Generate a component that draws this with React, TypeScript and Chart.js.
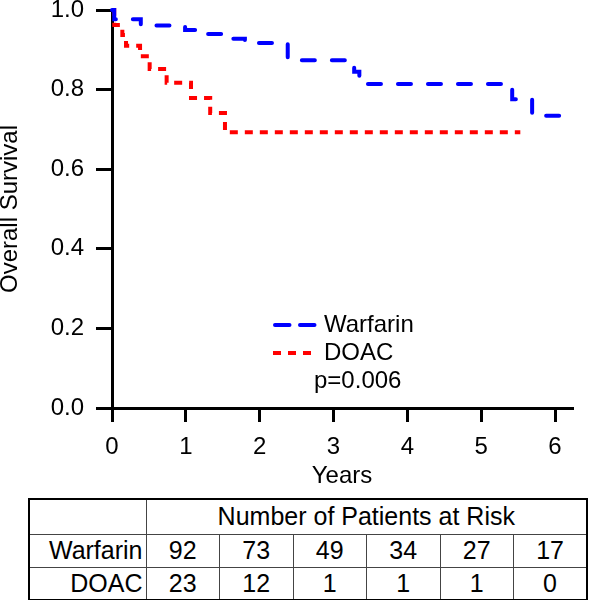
import React, { useEffect, useRef } from 'react';
import { Chart, registerables } from 'chart.js';

Chart.register(...registerables);

// ---- data ----
const xTickValues = [0, 1, 2, 3, 4, 5, 6];
const yTickValues = [0, 0.2, 0.4, 0.6, 0.8, 1.0];

const warfarinTimes = [0, 0.03, 0.39, 0.99, 1.19, 1.57, 1.8, 2.38, 3.28, 3.35, 5.42, 5.69, 6.11];
const warfarinSurvival = [1.0, 0.977, 0.961, 0.95, 0.94, 0.928, 0.917, 0.874, 0.845, 0.814, 0.776, 0.734, 0.734];

const doacTimes = [0, 0.03, 0.14, 0.19, 0.38, 0.51, 0.74, 1.07, 1.33, 1.53, 5.53];
const doacSurvival = [1.0, 0.962, 0.937, 0.91, 0.884, 0.852, 0.817, 0.779, 0.741, 0.693, 0.693];

const seriesNames = ['Warfarin', 'DOAC'];
const seriesColors = ['#0000ff', '#ff0000'];
const pValueLabel = 'p=0.006';
const xTitle = 'Years';
const yTitle = 'Overall Survival';

const riskHeader = 'Number of Patients at Risk';
const warfarinAtRisk = [92, 73, 49, 34, 27, 17];
const doacAtRisk = [23, 12, 1, 1, 1, 0];

const FONT = '"Liberation Sans", Arial, Helvetica, sans-serif';

const legendPlugin = {
  id: 'kmLegend',
  afterDraw(chart: any) {
    const ctx = chart.ctx as CanvasRenderingContext2D;
    ctx.save();
    const rows = [
      { y: 325, x1: 275, x2: 315, dash: [14.5, 10.5], cap: 'round', color: seriesColors[0], label: seriesNames[0] },
      { y: 353, x1: 273, x2: 311, dash: [8, 7], cap: 'butt', color: seriesColors[1], label: seriesNames[1] },
    ];
    for (const r of rows) {
      ctx.beginPath();
      ctx.setLineDash(r.dash);
      ctx.lineCap = r.cap as CanvasLineCap;
      ctx.lineWidth = 4;
      ctx.strokeStyle = r.color;
      ctx.moveTo(r.x1, r.y);
      ctx.lineTo(r.x2, r.y);
      ctx.stroke();
      ctx.setLineDash([]);
      ctx.fillStyle = '#000';
      ctx.font = `24px ${FONT}`;
      ctx.textAlign = 'left';
      ctx.textBaseline = 'middle';
      ctx.fillText(r.label, 324, r.y);
    }
    ctx.fillText(pValueLabel, 314, 381);
    ctx.restore();
  },
};

export default function App() {
  const canvasRef = useRef<HTMLCanvasElement | null>(null);

  useEffect(() => {
    const canvas = canvasRef.current;
    if (!canvas) return;
    const tickFont = { family: FONT, size: 24 };
    const chart = new Chart(canvas, {
      type: 'line',
      data: {
        datasets: [
          {
            label: seriesNames[0],
            data: warfarinTimes.map((t, i) => ({ x: t, y: warfarinSurvival[i] })),
            borderColor: seriesColors[0],
            borderWidth: 4,
            borderDash: [13, 17],
            borderCapStyle: 'round',
            stepped: 'before',
            pointRadius: 0,
            fill: false,
            clip: false,
          } as any,
          {
            label: seriesNames[1],
            data: doacTimes.map((t, i) => ({ x: t, y: doacSurvival[i] })),
            borderColor: seriesColors[1],
            borderWidth: 4,
            borderDash: [8, 7],
            borderCapStyle: 'butt',
            stepped: 'before',
            pointRadius: 0,
            fill: false,
            clip: false,
          } as any,
        ],
      },
      options: {
        animation: false,
        responsive: false,
        maintainAspectRatio: false,
        layout: { padding: { left: 0, right: 21, top: 10, bottom: 0 } },
        plugins: { legend: { display: false }, tooltip: { enabled: false } },
        scales: {
          x: {
            type: 'linear',
            min: 0,
            max: 6.23,
            afterBuildTicks: (s: any) => {
              s.ticks = xTickValues.map((v) => ({ value: v }));
            },
            afterFit: (s: any) => {
              s.height = 87;
              s.paddingLeft = 0;
              s.paddingRight = 0;
            },
            grid: { drawOnChartArea: false, drawTicks: true, tickLength: 14, lineWidth: 3, color: '#000' },
            border: { display: true, width: 3, color: '#000' },
            ticks: { color: '#000', font: tickFont, padding: 11, maxRotation: 0, callback: (v: any) => String(v) },
            title: { display: true, text: xTitle, color: '#000', font: { family: FONT, size: 24, lineHeight: 1.2 }, padding: { top: 0, bottom: 4 } },
          },
          y: {
            type: 'linear',
            min: 0,
            max: 1,
            afterBuildTicks: (s: any) => {
              s.ticks = yTickValues.map((v) => ({ value: v }));
            },
            afterFit: (s: any) => {
              s.width = 112;
              s.paddingTop = 0;
              s.paddingBottom = 0;
            },
            grid: { drawOnChartArea: false, drawTicks: true, tickLength: 16, lineWidth: 3, color: '#000' },
            border: { display: true, width: 3, color: '#000' },
            ticks: { color: '#000', font: tickFont, padding: 12, callback: (v: any) => Number(v).toFixed(1) },
            title: { display: true, text: yTitle, color: '#000', font: { family: FONT, size: 24, lineHeight: '20px' as any }, padding: { top: 0, bottom: 0 } },
          },
        },
      },
      plugins: [legendPlugin],
    });
    return () => chart.destroy();
  }, []);

  const cellBase: React.CSSProperties = {
    border: '1px solid #444',
    padding: 0,
    fontFamily: FONT,
    fontSize: 25,
    color: '#000',
    textAlign: 'center',
    verticalAlign: 'middle',
    lineHeight: '25px',
  };
  const labelCell: React.CSSProperties = { ...cellBase, textAlign: 'right', paddingRight: 3, width: 113 };

  return (
    <div style={{ position: 'absolute', left: 0, top: 0, width: 593, height: 600, background: '#fff' }}>
      <canvas ref={canvasRef} width={593} height={495} style={{ display: 'block', width: 593, height: 495 }} />
      <table
        style={{
          position: 'absolute',
          left: 28,
          top: 498,
          width: 558,
          height: 101,
          borderCollapse: 'collapse',
          border: '2px solid #000',
          tableLayout: 'fixed',
        }}
      >
        <colgroup>
          <col style={{ width: 117 }} />
          {warfarinAtRisk.map((_, i) => (
            <col key={i} style={{ width: 73.5 }} />
          ))}
        </colgroup>
        <tbody>
          <tr style={{ height: 35 }}>
            <td style={labelCell}></td>
            <td style={cellBase} colSpan={6}>{riskHeader}</td>
          </tr>
          <tr style={{ height: 33 }}>
            <td style={labelCell}>{seriesNames[0]}</td>
            {warfarinAtRisk.map((v, i) => (
              <td key={i} style={cellBase}>{v}</td>
            ))}
          </tr>
          <tr style={{ height: 33 }}>
            <td style={labelCell}>{seriesNames[1]}</td>
            {doacAtRisk.map((v, i) => (
              <td key={i} style={cellBase}>{v}</td>
            ))}
          </tr>
        </tbody>
      </table>
    </div>
  );
}
